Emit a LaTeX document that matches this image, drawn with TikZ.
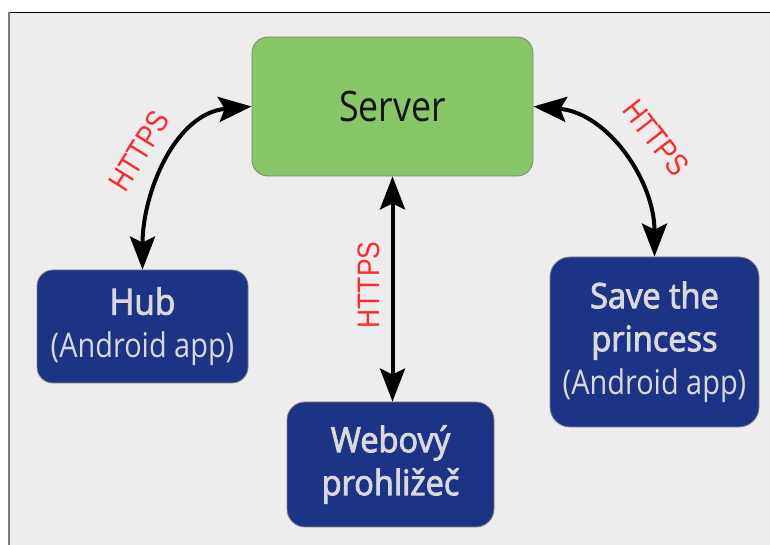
\documentclass[tikz,border=0pt]{standalone}
\usepackage{fontspec}
\usetikzlibrary{arrows.meta}
\newfontfamily\boxfont{Open Sans}[FakeStretch=0.85]
\newfontfamily\boxsemi{Open Sans}[FakeStretch=0.93, FakeBold=2.5]
\newfontfamily\httpsfont{Liberation Sans}[FakeStretch=0.85]
\definecolor{panel}{HTML}{EDEDED}
\definecolor{srvgreen}{HTML}{88C766}
\definecolor{srvtext}{HTML}{141414}
\definecolor{appblue}{HTML}{1C3486}
\definecolor{apptext}{HTML}{D9D9D9}
\definecolor{httpsred}{HTML}{FF2A2A}
\definecolor{boxedge}{HTML}{808080}
\definecolor{leftedge}{HTML}{7A7A7A}
\begin{document}
\begin{tikzpicture}[x=1pt,y=1pt,
  box/.style={draw=boxedge, line width=0.8pt, rounded corners=16pt, inner sep=0pt, align=center},
  appbox/.style={box, fill=appblue, text=apptext, font=\boxfont\fontsize{34}{43}\selectfont},
  link/.style={line width=4pt, {Stealth[length=33pt,width=25pt,inset=6pt]}-{Stealth[length=33pt,width=25pt,inset=6pt]}},
  proto/.style={text=httpsred, font=\httpsfont\fontsize{31}{31}\selectfont, inner sep=0pt}]
\useasboundingbox (0,0) rectangle (770,545);
\fill[white] (0,0) rectangle (770,545);
\fill[panel] (9,0) rectangle (770,532.5);
\draw[black, line width=1.2pt] (9,532.5) -- (770,532.5);
\draw[leftedge, line width=1.2pt] (9,0) -- (9,532.5);

\node[box, fill=srvgreen, text=srvtext, minimum width=281pt, minimum height=139pt,
      font=\boxfont\fontsize{42}{42}\selectfont] (server) at (392.5,438.5) {Server};
\node[appbox, minimum width=211pt, minimum height=113pt] (hub) at (142.5,218.5)
  {{\boxsemi\fontsize{36}{43}\selectfont Hub}\\(Android app)};
\node[appbox, minimum width=209pt, minimum height=170pt, rounded corners=20pt] (save) at (654.5,203)
  {{\boxsemi\fontsize{35}{44}\selectfont Save the}\\{\boxsemi\fontsize{35}{44}\selectfont princess}\\(Android app)};
\node[appbox, minimum width=207pt, minimum height=125pt, rounded corners=18pt] (web) at (390.5,80.5)
  {{\boxsemi\fontsize{35}{42}\selectfont Webový}\\{\boxsemi\fontsize{35}{42}\selectfont prohližeč}};

\draw[link] (hub.north) to[out=90,in=185] (server.west);
\draw[link] (server.east) to[out=-5,in=90] (save.north);
\draw[link] (server.south) -- (server.south |- web.north);

\node[proto, rotate=58] (l1) at (139,394) {HTTPS};
\node[proto, rotate=-52] (l2) at (656,407.5) {HTTPS};
\node[proto, rotate=90] (l3) at (369,260) {HTTPS};
\end{tikzpicture}
\end{document}
